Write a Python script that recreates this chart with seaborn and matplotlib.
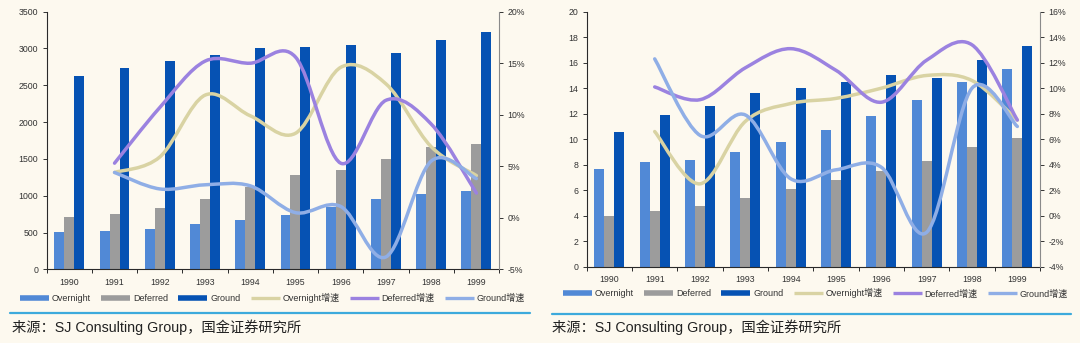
import numpy as np
import pandas as pd
import matplotlib
matplotlib.use("Agg")
import matplotlib.pyplot as plt
import seaborn as sns
from matplotlib.path import Path
from matplotlib.patches import PathPatch
from matplotlib.lines import Line2D
from matplotlib.ticker import FixedLocator, FuncFormatter

# ---- data -------------------------------------------------------------
years = ["1990", "1991", "1992", "1993", "1994", "1995", "1996", "1997", "1998", "1999"]
growth_years = years[1:]

# left panel: volumes
overnight_l = [502, 520, 547, 615, 673, 737, 845, 955, 1020, 1063]
deferred_l = [705, 750, 828, 954, 1113, 1280, 1347, 1493, 1664, 1700]
ground_l = [2623, 2741, 2831, 2917, 3000, 3021, 3053, 2945, 3112, 3220]
# left panel: growth rates (%)
overnight_g_l = [4.4, 5.9, 11.9, 9.9, 8.2, 14.6, 13.0, 6.9, 4.1]
deferred_g_l = [5.3, 10.7, 15.2, 15.0, 15.6, 5.3, 11.4, 9.1, 2.4]
ground_g_l = [4.4, 2.8, 3.2, 3.1, 0.5, 1.1, -3.8, 5.5, 3.8]

# right panel: revenues
overnight_r = [7.7, 8.2, 8.4, 9.0, 9.8, 10.7, 11.8, 13.1, 14.5, 15.5]
deferred_r = [4.0, 4.4, 4.8, 5.4, 6.1, 6.8, 7.5, 8.3, 9.4, 10.1]
ground_r = [10.6, 11.9, 12.6, 13.6, 14.0, 14.5, 15.0, 14.8, 16.2, 17.3]
# right panel: growth rates (%)
overnight_g_r = [6.6, 2.5, 7.4, 8.8, 9.2, 10.0, 11.0, 10.6, 7.5]
deferred_g_r = [10.1, 9.1, 11.6, 13.1, 11.4, 8.9, 12.2, 13.4, 7.5]
ground_g_r = [12.3, 6.3, 7.9, 2.9, 3.6, 3.8, -1.3, 10.0, 7.0]

bar_names = ["Overnight", "Deferred", "Ground"]
line_names = ["Overnight增速", "Deferred增速", "Ground增速"]
source_note = "来源：SJ Consulting Group，国金证券研究所"

# ---- style ------------------------------------------------------------
BG = "#FDF9EF"
BAR_COLORS = ["#5189D6", "#9C9C9C", "#0652B3"]
LINE_COLORS = ["#D9D3A3", "#9B82E0", "#8FAEE6"]
RULE_COLOR = "#3DAADC"
TEXT_COLOR = "#333333"

sns.set_style("white")
plt.rcParams["font.family"] = ["Liberation Sans", "Noto Sans CJK SC"]
plt.rcParams["axes.unicode_minus"] = False

W, H = 1080, 343
fig = plt.figure(figsize=(W / 100, H / 100), dpi=100, facecolor=BG)


def fx(px):
    return px / W


def fy(py):
    return (H - py) / H


def smooth_path(xs, ys):
    """Cubic Bezier path through the points (Catmull-Rom style smoothing)."""
    pts = np.column_stack([xs, ys]).astype(float)
    n = len(pts)
    verts = [pts[0]]
    codes = [Path.MOVETO]
    for i in range(n - 1):
        p0 = pts[max(i - 1, 0)]
        p1 = pts[i]
        p2 = pts[i + 1]
        p3 = pts[min(i + 2, n - 1)]
        verts += [p1 + (p2 - p0) / 6, p2 - (p3 - p1) / 6, p2]
        codes += [Path.CURVE4] * 3
    return Path(verts, codes)


def panel(rect, bars, growth, yticks, gticks, legend_box, rule, source_xy):
    ax = fig.add_axes(rect)
    ax.set_facecolor(BG)
    df = pd.DataFrame({
        "year": years * 3,
        "series": sum([[name] * len(years) for name in bar_names], []),
        "value": sum([list(v) for v in bars], []),
    })
    sns.barplot(data=df, x="year", y="value", hue="series", hue_order=bar_names,
                palette=BAR_COLORS, width=0.66, saturation=1, linewidth=0,
                legend=False, ax=ax)
    ax.set_xlim(-0.5, len(years) - 0.5)
    ax.set_ylim(yticks[0], yticks[-1])
    ax.set_yticks(yticks)
    ax.set_xlabel("")
    ax.set_ylabel("")
    for s in ["top", "right"]:
        ax.spines[s].set_visible(False)
    for s in ["left", "bottom"]:
        ax.spines[s].set_color("#2a2a2a")
        ax.spines[s].set_linewidth(0.8)
    ax.tick_params(axis="y", direction="out", length=3, width=0.7, pad=3,
                   labelsize=6.3, colors=TEXT_COLOR, left=True)
    ax.tick_params(axis="x", which="major", length=0, pad=6, labelsize=6.3,
                   colors=TEXT_COLOR)
    ax.xaxis.set_minor_locator(FixedLocator(np.arange(-0.5, len(years), 1.0)))
    ax.tick_params(axis="x", which="minor", direction="out", length=3, width=0.7,
                   color="#2a2a2a", bottom=True)

    axg = ax.twinx()
    axg.set_ylim(gticks[0], gticks[-1])
    axg.set_yticks(gticks)
    axg.yaxis.set_major_formatter(FuncFormatter(lambda v, _: f"{v:.0f}%"))
    for s in ["top", "left", "bottom"]:
        axg.spines[s].set_visible(False)
    axg.spines["right"].set_color("#8a8a8a")
    axg.spines["right"].set_linewidth(0.8)
    axg.tick_params(axis="y", direction="out", length=3, width=0.7, pad=3,
                    labelsize=6.3, colors=TEXT_COLOR, right=True)
    xs = [years.index(y) for y in growth_years]
    for vals, color in zip(growth, LINE_COLORS):
        axg.add_patch(PathPatch(smooth_path(xs, vals), facecolor="none",
                                edgecolor=color, lw=2.5, capstyle="round",
                                joinstyle="round"))

    handles = [Line2D([], [], color=c, lw=4, solid_capstyle="butt") for c in BAR_COLORS]
    handles += [Line2D([], [], color=c, lw=2.4, solid_capstyle="butt") for c in LINE_COLORS]
    x0, x1, yc = legend_box
    fig.legend(handles, bar_names + line_names, ncol=6, loc="center",
               bbox_to_anchor=(fx(x0), fy(yc) - 0.02, fx(x1) - fx(x0), 0.04),
               bbox_transform=fig.transFigure, mode="expand", frameon=False,
               fontsize=6.5, handlelength=3.2, handletextpad=0.3,
               borderaxespad=0, borderpad=0, labelcolor=TEXT_COLOR)

    r0, r1, ry = rule
    fig.add_artist(Line2D([fx(r0), fx(r1)], [fy(ry), fy(ry)], transform=fig.transFigure,
                          color=RULE_COLOR, lw=1.6))

    sx, sy = source_xy
    fig.text(fx(sx), fy(sy), source_note, fontsize=10.3, va="center", ha="left",
             color="#222222")
    return ax, axg


panel([fx(46.7), fy(269.3), fx(499) - fx(46.7), fy(11.7) - fy(269.3)],
      [overnight_l, deferred_l, ground_l],
      [overnight_g_l, deferred_g_l, ground_g_l],
      list(range(0, 3501, 500)), list(range(-5, 21, 5)),
      (20, 525, 297.7), (10, 530, 313.3), (12, 327))

panel([fx(586.7), fy(266.7), fx(1040) - fx(586.7), fy(11.7) - fy(266.7)],
      [overnight_r, deferred_r, ground_r],
      [overnight_g_r, deferred_g_r, ground_g_r],
      list(range(0, 21, 2)), list(range(-4, 17, 2)),
      (563, 1068, 293.3), (552, 1071, 314), (552, 327))

fig.savefig("out.png", dpi=100, facecolor=BG)
